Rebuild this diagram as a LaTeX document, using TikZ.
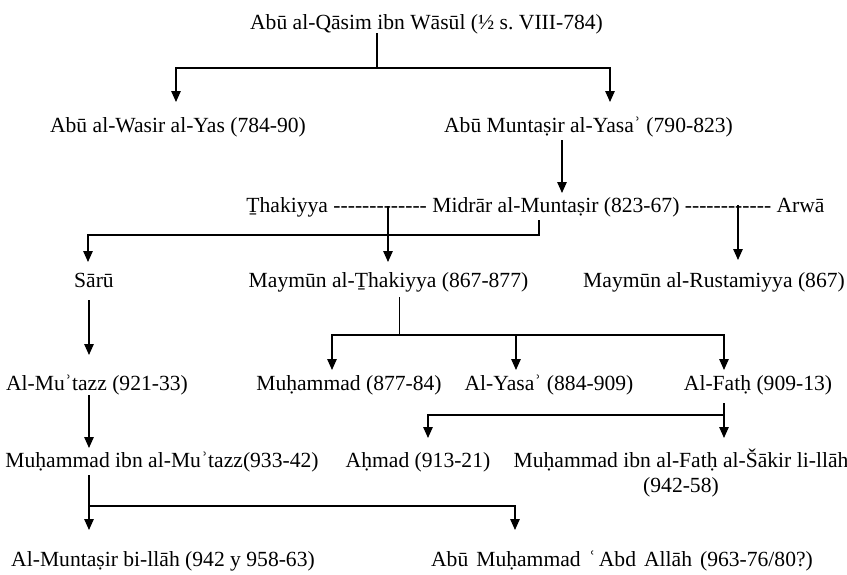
\documentclass[tikz,border=0pt]{standalone}
\usepackage{fontspec}
\setmainfont{Liberation Serif}
\usetikzlibrary{arrows.meta,calc}
\newcommand\hy{\mbox{-}}
\frenchspacing
\begin{document}
\begin{tikzpicture}[x=1pt,y=-1pt,
  lbl/.style={anchor=base,inner sep=0pt,font=\fontsize{21.6}{25}\selectfont},
  ln/.style={line width=1.3pt},
  thinln/.style={line width=0.8pt},
  arr/.style={line width=1.3pt,-{Triangle[length=11pt,width=9.5pt]}}]
\fill[white] (0,0) rectangle (847,574);
\useasboundingbox (0,0) rectangle (847,574);
% nodes
\node[lbl] (title) at (426.5,29) {Abū al-Qāsim ibn Wāsūl (½ s. VIII-784)};
\node[lbl] (wasir) at (178,132) {Abū al-Wasir al-Yas (784-90)};
\node[lbl] (munt) at (588.5,132) {Abū Muntaṣir al-Yasaʾ (790-823)};
\node[lbl] (midrar) at (535.5,212) {Ṯhakiyya \hy\hy\hy\hy\hy\hy\hy\hy\hy\hy\hy\hy\hy{} Midrār al-Muntaṣir (823-67) \hy\hy\hy\hy\hy\hy\hy\hy\hy\hy\hy\hy{} Arwā};
\node[lbl] (saru) at (94,287) {Sārū};
\node[lbl] (maythak) at (388.5,287) {Maymūn al-Ṯhakiyya (867-877)};
\node[lbl] (rust) at (714,287) {Maymūn al-Rustamiyya (867)};
\node[lbl] (mutazz) at (97,390) {Al-Muʾtazz (921-33)};
\node[lbl] (muh1) at (349,390) {Muḥammad (877-84)};
\node[lbl] (yasa) at (549,390) {Al-Yasaʾ (884-909)};
\node[lbl] (fath) at (758,390) {Al-Fatḥ (909-13)};
\node[lbl] (muhmut) at (162,467) {Muḥammad ibn al-Muʾtazz(933-42)};
\node[lbl] (ahmad) at (418,467) {Aḥmad (913-21)};
\node[lbl,align=center] (muhfath) at (681,492) {Muḥammad ibn al-Fatḥ al-Šākir li-llāh\\(942-58)};
\node[lbl] (mun) at (163,566) {Al-Muntaṣir bi-llāh (942 y 958-63)};
\node[lbl] (abd) at (622,566) {\spaceskip=8pt Abū Muḥammad ʿ\kern3pt Abd Allāh (963-76/80?)};
% junctions
\coordinate (j1) at ($(title.base)+(-49.5,39)$);
\coordinate (j2) at ($(maythak.base)+(10.5,48)$);
\coordinate (j3) at ($(fath.base)+(-34,25)$);
\coordinate (j4) at ($(muhmut.base)+(-73,39)$);
% connectors
\draw[ln] ($(title.base)+(-49.5,4)$) -- (j1);
\draw[arr] (j1) -| ($(wasir.base)+(-2,-30)$);
\draw[arr] (j1) -| ($(munt.base)+(21.5,-30)$);
\draw[arr] ($(munt.base)+(-26.5,8)$) -- ($(midrar.base)+(26.5,-19)$);
\draw[arr] ($(midrar.base)+(-147.5,-6)$) -- ($(maythak.base)+(-0.5,-25)$);
\draw[arr] ($(midrar.base)+(3.5,8)$) -- ++(0,15) -| ($(saru.base)+(-6,-25)$);
\draw[arr] ($(midrar.base)+(202.5,-7)$) -- ($(rust.base)+(24,-27)$);
\draw[arr] ($(saru.base)+(-5,13)$) -- ($(mutazz.base)+(-8,-35)$);
\draw[thinln] ($(maythak.base)+(10.5,10)$) -- (j2);
\draw[arr] (j2) -| ($(muh1.base)+(-17,-20)$);
\draw[arr] (j2) -| ($(yasa.base)+(-33,-20)$);
\draw[arr] (j2) -| ($(fath.base)+(-34,-20)$);
\draw[arr] ($(mutazz.base)+(-8,5)$) -- ($(muhmut.base)+(-73,-19)$);
\draw[arr] ($(fath.base)+(-34,13)$) -- ($(muhfath.base)+(43,-54)$);
\draw[arr] (j3) -| ($(ahmad.base)+(10,-29)$);
\draw[ln] ($(muhmut.base)+(-73,8)$) -- (j4);
\draw[arr] (j4) -- ($(mun.base)+(-74,-36)$);
\draw[arr] (j4) -| ($(abd.base)+(-107,-36)$);
\end{tikzpicture}
\end{document}
